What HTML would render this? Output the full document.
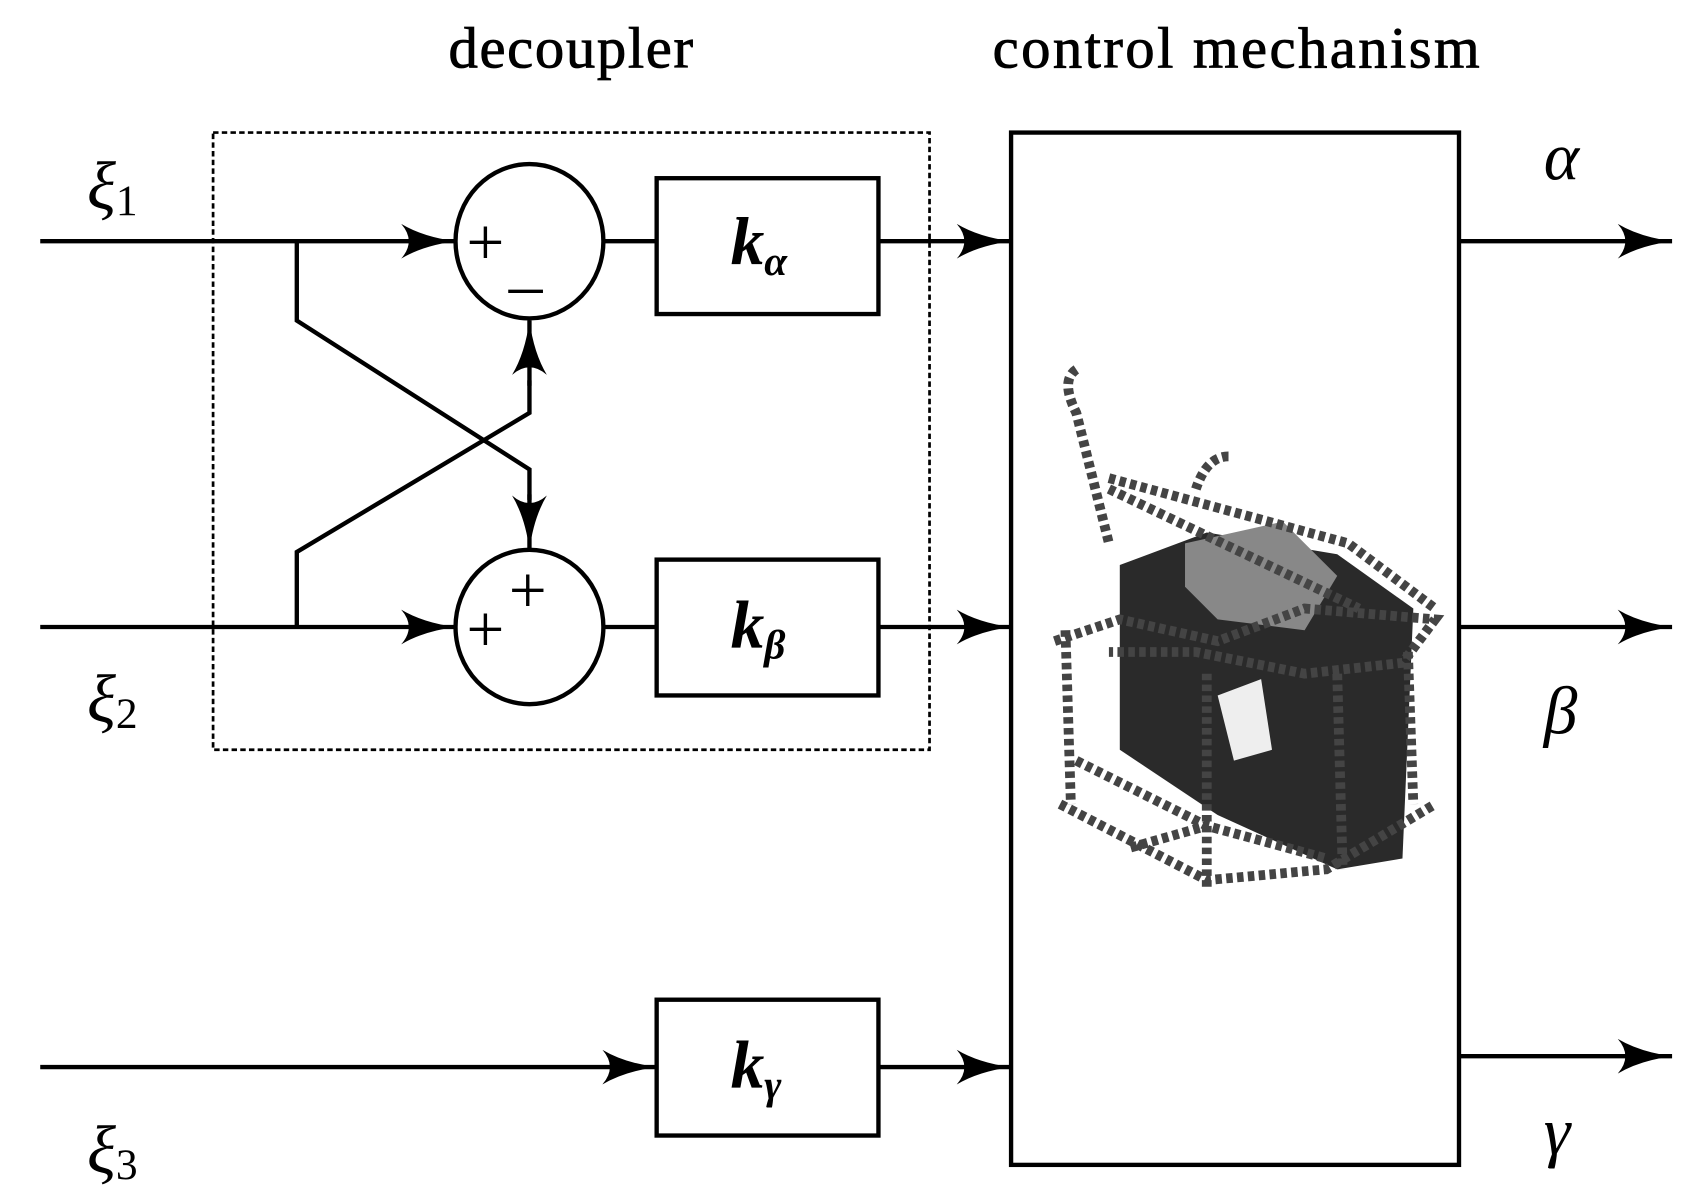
<!DOCTYPE html>
<html><head><style>
html,body{margin:0;padding:0;background:#fff;}
svg{display:block;}
text{font-family:"Liberation Serif",serif;fill:#000;}
</style></head><body>
<svg width="1696" height="1204" viewBox="0 0 1560 1108" preserveAspectRatio="none" xmlns="http://www.w3.org/2000/svg">
<defs>
<marker id="a" viewBox="0 0 20 40" refX="20" refY="20" markerWidth="20" markerHeight="40" markerUnits="userSpaceOnUse" orient="auto">
<path d="M0,13 Q8,18 20,20 Q8,22 0,27 Q5,20 0,13 Z" fill="#000"/>
</marker>
<marker id="b" viewBox="0 0 50 32" refX="50" refY="16" markerWidth="50" markerHeight="32" markerUnits="userSpaceOnUse" orient="auto">
<path d="M0,0 Q20,12 50,16 Q20,20 0,32 Q14,16 0,0 Z" fill="#000"/>
</marker>
</defs>
<g stroke="#000" stroke-width="4" fill="none">
<rect x="196" y="122" width="659" height="568" stroke-width="2.5" stroke-dasharray="5,3"/>
<rect x="930" y="122" width="412" height="950"/>
<ellipse cx="487" cy="222" rx="68" ry="71"/>
<ellipse cx="487" cy="577" rx="68" ry="71"/>
<rect x="604" y="164" width="204" height="125"/>
<rect x="604" y="515" width="204" height="125"/>
<rect x="604" y="920" width="204" height="125"/>
<line x1="37" y1="222" x2="419" y2="222" marker-end="url(#b)"/>
<line x1="37" y1="577" x2="419" y2="577" marker-end="url(#b)"/>
<line x1="37" y1="982" x2="604" y2="982" marker-end="url(#b)"/>
<line x1="555" y1="222" x2="604" y2="222"/>
<line x1="555" y1="577" x2="604" y2="577"/>
<line x1="808" y1="222" x2="930" y2="222" marker-end="url(#b)"/>
<line x1="808" y1="577" x2="930" y2="577" marker-end="url(#b)"/>
<line x1="808" y1="982" x2="930" y2="982" marker-end="url(#b)"/>
<line x1="1342" y1="222" x2="1538" y2="222" marker-end="url(#b)"/>
<line x1="1342" y1="577" x2="1538" y2="577" marker-end="url(#b)"/>
<line x1="1342" y1="972" x2="1538" y2="972" marker-end="url(#b)"/>
<polyline points="273,222 273,295 487,432 487,460"/>
<line x1="487" y1="455" x2="487" y2="506" marker-end="url(#b)"/>
<polyline points="273,577 273,508 487,380 487,350"/>
<line x1="487" y1="355" x2="487" y2="295" marker-end="url(#b)"/>
</g>
<!-- robot approximation -->
<g>
<polygon points="1030,520 1110,490 1230,510 1300,560 1290,790 1230,800 1120,750 1030,690" fill="#2a2a2a"/>
<polygon points="1090,500 1180,480 1230,530 1200,580 1120,570 1090,540" fill="#888"/>
<polygon points="1120,640 1160,625 1170,690 1135,700" fill="#eee"/>
<g stroke="#444" stroke-width="9" stroke-dasharray="6,4" fill="none">
<path d="M990,340 Q975,350 990,380 L1020,500"/>
<path d="M1130,420 Q1110,420 1100,450"/>
<polyline points="970,590 1030,570 1120,590 1200,560 1320,570 1290,610 1200,620 1100,600 1020,600"/>
<polyline points="1020,440 1130,470 1240,500 1320,560"/>
<line x1="980" y1="580" x2="985" y2="740"/>
<line x1="1110" y1="620" x2="1110" y2="820"/>
<line x1="1230" y1="620" x2="1235" y2="800"/>
<line x1="1295" y1="600" x2="1300" y2="740"/>
<polyline points="975,740 1110,810 1220,800 1320,740"/>
<polyline points="990,700 1110,760 1220,790"/>
<line x1="1040" y1="780" x2="1110" y2="760"/>
<line x1="1020" y1="450" x2="1250" y2="560"/>
</g>
</g>
<g font-size="54" stroke="#000" stroke-width="0.8">
<text x="525" y="62" text-anchor="middle" textLength="225">decoupler</text>
<text x="1137" y="62" text-anchor="middle" textLength="448">control mechanism</text>
</g>
<g font-size="62" font-style="italic">
<text x="80" y="192">ξ<tspan font-size="40" font-style="normal" dy="6">1</tspan></text>
<text x="80" y="664">ξ<tspan font-size="40" font-style="normal" dy="6">2</tspan></text>
<text x="80" y="1079">ξ<tspan font-size="40" font-style="normal" dy="6">3</tspan></text>
<text x="1420" y="165">α</text>
<text x="1420" y="675">β</text>
<text x="1420" y="1062">γ</text>
<text x="672" y="243" font-weight="bold">k<tspan font-size="38" dy="10">α</tspan></text>
<text x="672" y="596" font-weight="bold">k<tspan font-size="38" dy="10">β</tspan></text>
<text x="672" y="1001" font-weight="bold">k<tspan font-size="38" dy="10">γ</tspan></text>
</g>
<g font-size="62" font-family="Liberation Sans">
<text x="429" y="244">+</text>
<text x="468" y="262">_</text>
<text x="429" y="600">+</text>
<text x="468" y="564">+</text>
</g>
</svg>
</body></html>
